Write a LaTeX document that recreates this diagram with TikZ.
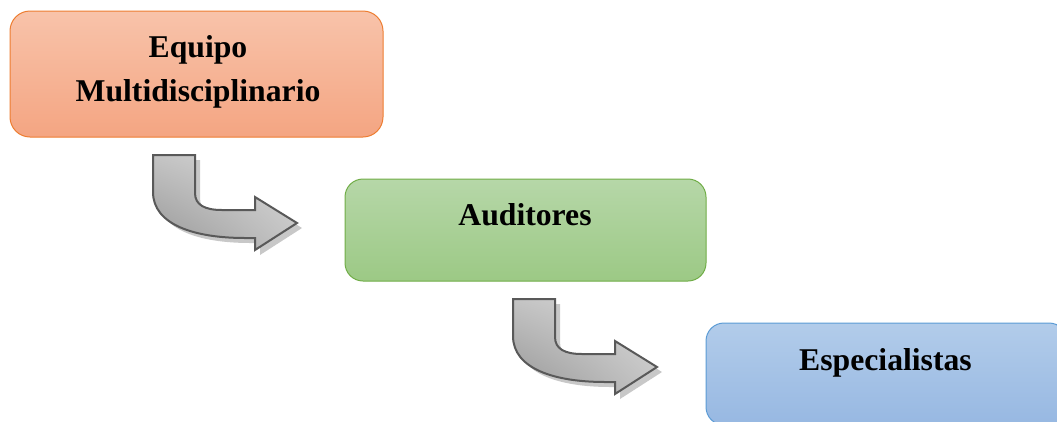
\documentclass[tikz,border=0pt]{standalone}
\usepackage{fontspec}
\setmainfont{Liberation Serif}
\usetikzlibrary{shadings}
\begin{document}
\begin{tikzpicture}[x=1pt,y=-1pt,
  boxbase/.style={rounded corners=20pt, line width=1pt, inner sep=0pt},
  orangebox/.style={boxbase, draw=orangeborder, top color=orangetop, bottom color=orangebot},
  greenbox/.style={boxbase, draw=greenborder, top color=greentop, bottom color=greenbot},
  bluebox/.style={boxbase, draw=blueborder, top color=bluetop, bottom color=bluebot},
  lbl/.style={font=\fontsize{31.7}{44}\selectfont\bfseries, inner sep=0pt, text=black},
  bentarrow/.style={draw=arrowline, line width=2pt, line join=miter,
    upper left=arrowmid, upper right=arrowlight, lower left=arrowdark, lower right=arrowmid},
  arrowshadow/.style={fill=shadowgray, opacity=0.55}
]
\definecolor{orangeborder}{HTML}{ED7D31}
\definecolor{orangetop}{HTML}{F8C3AA}
\definecolor{orangebot}{HTML}{F4A582}
\definecolor{greenborder}{HTML}{70AD47}
\definecolor{greentop}{HTML}{B6D7A8}
\definecolor{greenbot}{HTML}{9CC985}
\definecolor{blueborder}{HTML}{5B9BD5}
\definecolor{bluetop}{HTML}{B2CCEA}
\definecolor{bluebot}{HTML}{97B8E2}
\definecolor{arrowline}{HTML}{595959}
\definecolor{arrowlight}{HTML}{DADADA}
\definecolor{arrowmid}{HTML}{C4C4C4}
\definecolor{arrowdark}{HTML}{959595}
\definecolor{shadowgray}{HTML}{9A9A9A}

\useasboundingbox (0,0) rectangle (1057,421);

% boxes
\node[orangebox, minimum width=373pt, minimum height=126pt] (b1) at (196.5,74) {};
\node[greenbox, minimum width=361pt, minimum height=102pt, rounded corners=18pt] (b2) at (525.5,230) {};
\node[bluebox, minimum width=361pt, minimum height=102pt, rounded corners=18pt] (b3) at (886.5,374) {};

% labels
\node[lbl, align=center] (t1) at (198,71.5) {Equipo\\Multidisciplinario};
\node[lbl, anchor=base] (t2) at (525,225) {Auditores};
\node[lbl, anchor=base] (t3) at (885.5,370) {Especialistas};

% bent arrows
\foreach \dx/\dy in {0/0, 360/144} {
  \begin{scope}[shift={(\dx,\dy)}]
    \fill[arrowshadow, shift={(5,5)}]
      (153,155) -- (195,155) -- (195,193)
      .. controls (195,205) and (205,210) .. (222,210)
      -- (255,210) -- (255,197) -- (297,223) -- (255,250) -- (255,238) -- (245,238)
      .. controls (195,238) and (153,225) .. (153,192) -- cycle;
    \path[bentarrow]
      (153,155) -- (195,155) -- (195,193)
      .. controls (195,205) and (205,210) .. (222,210)
      -- (255,210) -- (255,197) -- (297,223) -- (255,250) -- (255,238) -- (245,238)
      .. controls (195,238) and (153,225) .. (153,192) -- cycle;
  \end{scope}
}
\end{tikzpicture}
\end{document}
